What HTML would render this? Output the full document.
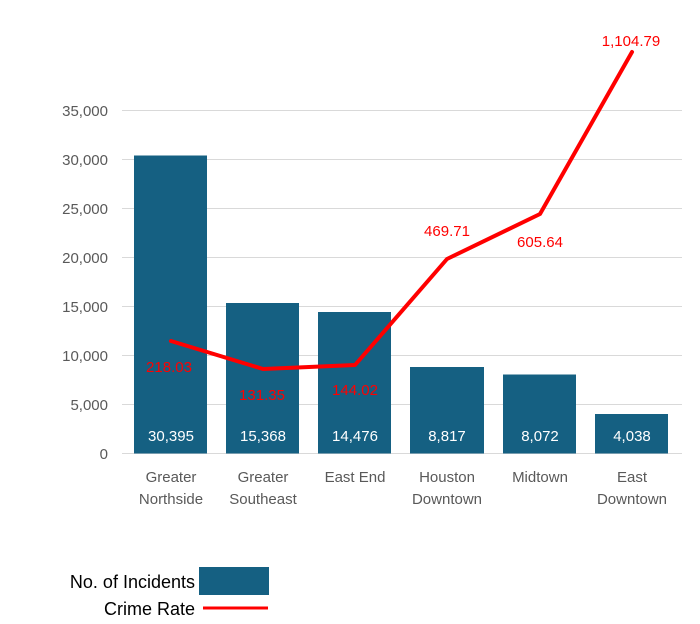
<!DOCTYPE html>
<html><head><meta charset="utf-8"><style>
html,body{margin:0;padding:0;background:#fff;}
svg{display:block;font-family:"Liberation Sans",Arial,sans-serif;}
</style></head><body>
<svg width="700" height="624" viewBox="0 0 700 624" xmlns="http://www.w3.org/2000/svg">
<g stroke="#d9d9d9" stroke-width="1">
<line x1="122" x2="682" y1="110.5" y2="110.5"/>
<line x1="122" x2="682" y1="159.5" y2="159.5"/>
<line x1="122" x2="682" y1="208.5" y2="208.5"/>
<line x1="122" x2="682" y1="257.5" y2="257.5"/>
<line x1="122" x2="682" y1="306.5" y2="306.5"/>
<line x1="122" x2="682" y1="355.5" y2="355.5"/>
<line x1="122" x2="682" y1="404.5" y2="404.5"/>
<line x1="122" x2="682" y1="453.5" y2="453.5"/>
</g>
<g fill="#595959" font-size="15" text-anchor="end">
<text x="108" y="116">35,000</text>
<text x="108" y="165">30,000</text>
<text x="108" y="214">25,000</text>
<text x="108" y="263">20,000</text>
<text x="108" y="312">15,000</text>
<text x="108" y="361">10,000</text>
<text x="108" y="410">5,000</text>
<text x="108" y="459">0</text>
</g>
<g fill="#156082">
<rect x="134" y="155.5" width="73" height="298"/>
<rect x="226" y="303" width="73" height="150.5"/>
<rect x="318" y="312" width="73" height="141.5"/>
<rect x="410" y="367" width="74" height="86.5"/>
<rect x="503" y="374.5" width="73" height="79"/>
<rect x="595" y="414" width="73" height="39.5"/>
</g>
<g fill="#fff" font-size="15" text-anchor="middle">
<text x="171" y="441">30,395</text>
<text x="263" y="441">15,368</text>
<text x="355" y="441">14,476</text>
<text x="447" y="441">8,817</text>
<text x="540" y="441">8,072</text>
<text x="632" y="441">4,038</text>
</g>
<g fill="#595959" font-size="15" text-anchor="middle">
<text x="171" y="482">Greater</text><text x="171" y="504">Northside</text>
<text x="263" y="482">Greater</text><text x="263" y="504">Southeast</text>
<text x="355" y="482">East End</text>
<text x="447" y="482">Houston</text><text x="447" y="504">Downtown</text>
<text x="540" y="482">Midtown</text>
<text x="632" y="482">East</text><text x="632" y="504">Downtown</text>
</g>
<polyline points="171,341 263,369 355,365 447,259 540,214 632,52" fill="none" stroke="#ff0000" stroke-width="4" stroke-linejoin="round" stroke-linecap="round"/>
<g fill="#ff0000" font-size="15" text-anchor="middle">
<text x="169" y="372">218.03</text>
<text x="262" y="400">131.35</text>
<text x="355" y="395">144.02</text>
<text x="447" y="236">469.71</text>
<text x="540" y="247">605.64</text>
<text x="631" y="46">1,104.79</text>
</g>
<g fill="#000" font-size="18" text-anchor="end">
<text x="195" y="588">No. of Incidents</text>
<text x="195" y="615">Crime Rate</text>
</g>
<rect x="199" y="567" width="70" height="28" fill="#156082"/>
<line x1="203" x2="268" y1="608" y2="608" stroke="#ff0000" stroke-width="3"/>
</svg>
</body></html>
